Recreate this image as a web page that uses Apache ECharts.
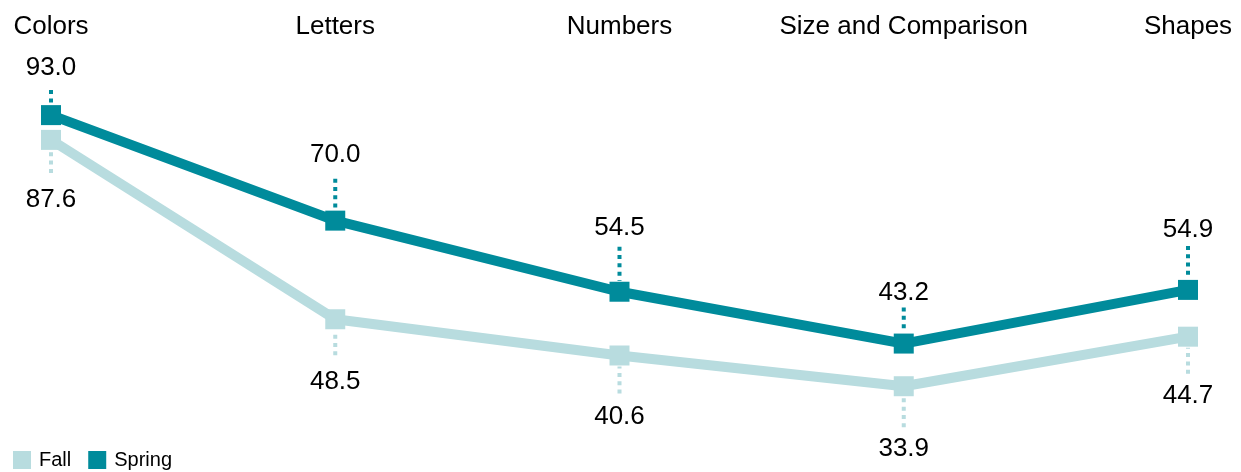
<!DOCTYPE html>
<html>
<head>
<meta charset="utf-8">
<script src="https://cdn.jsdelivr.net/npm/echarts@6/dist/echarts.min.js"></script>
<style>
  html, body { margin: 0; padding: 0; background: #fff; }
  #chart { width: 1241px; height: 472px; }
</style>
</head>
<body>
<div id="chart"></div>
<script>
// Skill areas and average scores per term
const categories = ['Colors', 'Letters', 'Numbers', 'Size and Comparison', 'Shapes'];
const fallScores = [87.6, 48.5, 40.6, 33.9, 44.7];
const springScores = [93.0, 70.0, 54.5, 43.2, 54.9];

// Label placement: distance from point to label centre, and dotted leader length
const springLabelGap = [47, 66, 64, 51, 60];
const springLeaderLen = [14, 31, 34, 25, 33];
const fallLabelGap = [60, 63, 61, 63, 59];
const fallLeaderLen = [22, 25, 27, 30, 26];

const FONT = "'Liberation Sans', Arial, Helvetica, sans-serif";
const SPRING = '#008b9b';
const FALL = '#b8dcdf';
const MARK = 20;

function labelSeries(name, values, color, dir, gaps, leaders) {
  return {
    name: name + ' labels',
    type: 'custom',
    data: values.map((v, i) => [i, v]),
    encode: { x: 0, y: 1 },
    z: 5,
    silent: true,
    renderItem: function (params, api) {
      const i = params.dataIndex;
      const p = api.coord([api.value(0), api.value(1)]);
      const edge = p[1] + dir * (MARK / 2 + 1);
      const end = edge + dir * leaders[i];
      return {
        type: 'group',
        children: [
          {
            type: 'line',
            shape: { x1: p[0], y1: end, x2: p[0], y2: edge },
            style: { stroke: color, lineWidth: 4, lineDash: [4, 4.3] }
          },
          {
            type: 'text',
            x: p[0],
            y: p[1] + dir * gaps[i],
            style: {
              text: api.value(1).toFixed(1),
              fill: '#000',
              font: '26px ' + FONT,
              align: 'center',
              verticalAlign: 'middle'
            }
          }
        ]
      };
    }
  };
}

const chart = echarts.init(document.getElementById('chart'), null, { renderer: 'canvas' });
chart.setOption({
  animation: false,
  backgroundColor: '#fff',
  textStyle: { fontFamily: FONT },
  grid: { left: 51, right: 53, top: 83, bottom: 22 },
  legend: {
    data: ['Fall', 'Spring'],
    left: 8,
    top: 445,
    icon: 'rect',
    itemWidth: 18,
    itemHeight: 18,
    itemGap: 17,
    textStyle: { fontSize: 20, color: '#000', fontFamily: FONT, padding: [0, 0, 0, 3] }
  },
  xAxis: {
    type: 'category',
    data: categories,
    position: 'top',
    boundaryGap: false,
    axisLine: { show: false },
    axisTick: { show: false },
    splitLine: { show: false },
    axisLabel: {
      color: '#000',
      fontSize: 26,
      fontFamily: FONT,
      margin: 43,
      interval: 0
    }
  },
  yAxis: {
    type: 'value',
    min: 20,
    max: 100,
    show: false,
    splitLine: { show: false }
  },
  series: [
    {
      name: 'Fall',
      type: 'line',
      data: fallScores,
      color: FALL,
      lineStyle: { width: 10, color: FALL },
      symbol: 'rect',
      symbolSize: MARK,
      showSymbol: true,
      itemStyle: { color: FALL },
      z: 2
    },
    {
      name: 'Spring',
      type: 'line',
      data: springScores,
      color: SPRING,
      lineStyle: { width: 10, color: SPRING },
      symbol: 'rect',
      symbolSize: MARK,
      showSymbol: true,
      itemStyle: { color: SPRING },
      z: 3
    },
    labelSeries('Fall', fallScores, FALL, 1, fallLabelGap, fallLeaderLen),
    labelSeries('Spring', springScores, SPRING, -1, springLabelGap, springLeaderLen)
  ]
});
</script>
</body>
</html>
